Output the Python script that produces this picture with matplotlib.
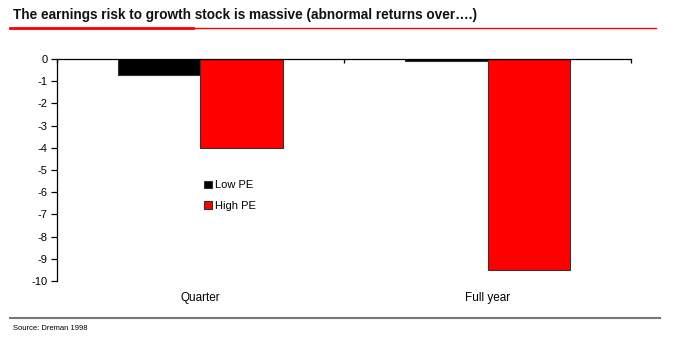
import matplotlib

matplotlib.use("Agg")
import matplotlib.lines
import matplotlib.pyplot
import numpy

categories = ["Quarter", "Full year"]
low_pe = [-0.7, -0.1]
high_pe = [-4.0, -9.5]
series_names = ["Low PE", "High PE"]
yticks = list(range(0, -11, -1))

title = "The earnings risk to growth stock is massive (abnormal returns over\u2026.)"
source = "Source: Dreman 1998"


def main():
    matplotlib.rcParams["font.family"] = ["Liberation Sans", "DejaVu Sans"]
    fig = matplotlib.pyplot.figure(figsize=(6.8, 3.39), dpi=100)
    ax = fig.add_axes([0.0838, 0.171, 0.8442, 0.655])

    x = numpy.arange(len(categories))
    width = 0.286
    ax.bar(x - width / 2, low_pe, width, color="black", edgecolor="#333333",
           linewidth=0.8, label=series_names[0], zorder=2)
    ax.bar(x + width / 2, high_pe, width, color="#ff0000", edgecolor="#333333",
           linewidth=0.8, label=series_names[1], zorder=2)

    ax.set_xlim(-0.5, len(categories) - 0.5)
    ax.set_ylim(-10, 0)
    ax.set_yticks(yticks)
    ax.set_yticklabels([str(v) for v in yticks], fontsize=8)
    ax.tick_params(axis="y", direction="out", length=4, width=0.9, pad=3)

    # category axis sits along the zero line, ticks between categories
    ax.xaxis.tick_top()
    ax.set_xticks(numpy.arange(-0.5, len(categories), 1.0))
    ax.set_xticklabels([])
    ax.tick_params(axis="x", direction="in", length=3, width=0.9)
    for spine in ["right", "bottom"]:
        ax.spines[spine].set_visible(False)
    ax.spines["left"].set_linewidth(0.9)
    ax.spines["top"].set_linewidth(0.9)
    ax.spines["top"].set_zorder(3)

    for xi, name in zip(x, categories):
        ax.text(xi, -0.075, name, transform=ax.get_xaxis_transform(),
                ha="center", va="center", fontsize=8.5)

    ax.legend(loc="upper left", bbox_to_anchor=(0.249, 0.473), frameon=False,
              fontsize=8, handlelength=0.7, handleheight=0.7,
              handletextpad=0.3, labelspacing=0.95, borderaxespad=0)

    fig.text(13 / 680, 1 - 15 / 339, title, fontsize=9.8, fontweight="bold",
             ha="left", va="center", color="#111111")
    fig.add_artist(matplotlib.lines.Line2D(
        [10 / 680, 656 / 680], [1 - 28 / 339, 1 - 28 / 339],
        color="#ff0000", linewidth=1.0))
    fig.add_artist(matplotlib.lines.Line2D(
        [10 / 680, 193 / 680], [1 - 28 / 339, 1 - 28 / 339],
        color="#ff0000", linewidth=2.0))

    fig.add_artist(matplotlib.lines.Line2D(
        [10 / 680, 660 / 680], [1 - 318 / 339, 1 - 318 / 339],
        color="#777777", linewidth=1.5))
    fig.text(13 / 680, 1 - 329 / 339, source, fontsize=5.5, ha="left",
             va="center")

    fig.savefig("out.png", dpi=100)
    matplotlib.pyplot.close(fig)


if __name__ == "__main__":
    main()
